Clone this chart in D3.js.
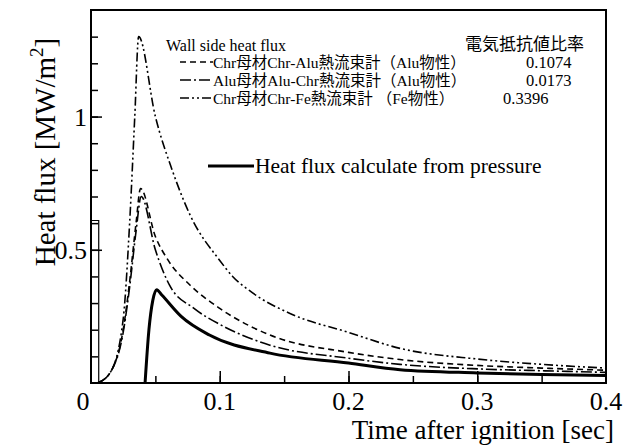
<!DOCTYPE html>
<html>
<head>
<meta charset="utf-8">
<script src="https://cdn.jsdelivr.net/npm/d3@7"></script>
<style>
  body { margin: 0; background: #fff; }
  text { font-family: "Liberation Serif", "Noto Sans CJK JP", serif; fill: #000; }
</style>
</head>
<body>
<svg id="chart" width="634" height="446"></svg>
<script>
// values: time [sec], heat flux [MW/m2]
var chrAlu = [[0.005,0],[0.015,0.04],[0.025,0.2],[0.03,0.38],[0.035,0.6],[0.0385,0.73],[0.05,0.55],[0.06,0.46],[0.077,0.367],[0.1,0.28],[0.139,0.18],[0.2,0.115],[0.24,0.088],[0.3,0.066],[0.35,0.056],[0.4,0.048]];
var aluChr = [[0.005,0],[0.015,0.04],[0.025,0.19],[0.03,0.36],[0.035,0.57],[0.039,0.70],[0.05,0.5],[0.061,0.367],[0.08,0.28],[0.1,0.22],[0.139,0.142],[0.2,0.093],[0.24,0.07],[0.3,0.053],[0.35,0.046],[0.4,0.04]];
var chrFe = [[0.005,0],[0.015,0.04],[0.025,0.24],[0.03,0.6],[0.034,1.0],[0.037,1.30],[0.05,1.0],[0.063,0.80],[0.077,0.63],[0.1,0.46],[0.11,0.40],[0.125,0.34],[0.155,0.26],[0.2,0.19],[0.24,0.13],[0.3,0.09],[0.35,0.07],[0.4,0.056]];
var pressure = [[0.042,0],[0.045,0.2],[0.048,0.31],[0.051,0.35],[0.055,0.33],[0.07,0.25],[0.092,0.18],[0.139,0.112],[0.2,0.075],[0.24,0.05],[0.3,0.038],[0.35,0.032],[0.4,0.028]];
var pulse = [[0,0.61],[0.006,0.61],[0.006,0]];

var wallNames = ["Chr母材Chr-Alu熱流束計（Alu物性）", "Alu母材Alu-Chr熱流束計（Alu物性）", "Chr母材Chr-Fe熱流束計 （Fe物性）"];
var wallRatios = ["0.1074", "0.0173", "0.3396"];
var xTicks = [0, 0.1, 0.2, 0.3, 0.4];
var yTicks = [0.5, 1];

var svg = d3.select("#chart");
var margin = {top: 10, left: 91, right: 28, bottom: 63};
var width = 634, height = 446;

var x = d3.scaleLinear().domain([0, 0.4]).range([margin.left, width - margin.right]);
var y = d3.scaleLinear().domain([0, 1.4]).range([height - margin.bottom, margin.top]);

var line = d3.line().x(d => x(d[0])).y(d => y(d[1])).curve(d3.curveMonotoneX);

var dashes = ["6,4", "11,3,2,3", "9,3,2,3,2,3"];
var wallData = [chrAlu, aluChr, chrFe];

// curves
svg.selectAll("path.wall")
    .data(wallData)
  .enter().append("path")
    .attr("class", "wall")
    .attr("d", line)
    .attr("fill", "none")
    .attr("stroke", "#000")
    .attr("stroke-width", 1.6)
    .attr("stroke-dasharray", (d, i) => dashes[i]);

svg.append("path")
    .attr("d", line(pressure))
    .attr("fill", "none")
    .attr("stroke", "#000")
    .attr("stroke-width", 3);

svg.append("path")
    .attr("d", d3.line().x(d => x(d[0])).y(d => y(d[1]))(pulse))
    .attr("fill", "none")
    .attr("stroke", "#000")
    .attr("stroke-width", 1.2);

// axes with inward ticks
var xMinor = d3.range(0.05, 0.4, 0.05);
var yMinor = d3.range(0.1, 1.4, 0.1);

svg.append("g")
    .attr("transform", `translate(0,${y(0)})`)
    .call(d3.axisTop(x).tickValues(xMinor).tickSize(7).tickFormat(""))
    .call(g => g.select(".domain").remove())
    .selectAll("line").attr("stroke-width", 1.5);

svg.append("g")
    .attr("transform", `translate(0,${y(0)})`)
    .call(d3.axisTop(x).tickValues([0.1, 0.2, 0.3]).tickSize(12).tickFormat(""))
    .call(g => g.select(".domain").remove())
    .selectAll("line").attr("stroke-width", 1.5);

svg.append("g")
    .attr("transform", `translate(${x(0)},0)`)
    .call(d3.axisRight(y).tickValues(yMinor).tickSize(7).tickFormat(""))
    .call(g => g.select(".domain").remove())
    .selectAll("line").attr("stroke-width", 1.5);

svg.append("g")
    .attr("transform", `translate(${x(0)},0)`)
    .call(d3.axisRight(y).tickValues(yTicks).tickSize(11).tickFormat(""))
    .call(g => g.select(".domain").remove())
    .selectAll("line").attr("stroke-width", 1.5);

svg.append("rect")
    .attr("x", x(0)).attr("y", y(1.4))
    .attr("width", x(0.4) - x(0)).attr("height", y(0) - y(1.4))
    .attr("fill", "none").attr("stroke", "#000").attr("stroke-width", 2);

// tick labels
svg.selectAll("text.xt")
    .data(xTicks)
  .enter().append("text")
    .attr("class", "xt")
    .attr("x", d => d === 0 ? x(d) - 8 : x(d))
    .attr("y", y(0) + 27)
    .attr("text-anchor", "middle")
    .attr("font-size", 26)
    .text(d => d3.format("")(d));

svg.selectAll("text.yt")
    .data(yTicks)
  .enter().append("text")
    .attr("class", "yt")
    .attr("x", x(0) - 4)
    .attr("y", d => y(d) + 9)
    .attr("text-anchor", "end")
    .attr("font-size", 26)
    .text(d => d);

svg.append("text")
    .attr("x", 614).attr("y", 439)
    .attr("text-anchor", "end")
    .attr("font-size", 27)
    .text("Time after ignition [sec]");

var yl = svg.append("text")
    .attr("transform", `translate(55,152) rotate(-90)`)
    .attr("text-anchor", "middle")
    .attr("font-size", 29);
yl.append("tspan").text("Heat flux [MW/m");
yl.append("tspan").attr("font-size", 19).attr("dy", -12).text("2");
yl.append("tspan").attr("dy", 12).text("]");

// legend
var lg = svg.append("g").attr("font-size", 15.5);
lg.append("text").attr("x", 166).attr("y", 51).attr("font-size", 16).text("Wall side heat flux");
lg.append("text").attr("x", 465).attr("y", 50).attr("font-size", 17).text("電気抵抗値比率");

var rows = lg.selectAll("g.row")
    .data(wallNames)
  .enter().append("g")
    .attr("class", "row")
    .attr("transform", (d, i) => `translate(0,${68 + i * 18})`);

rows.append("line")
    .attr("x1", 180).attr("x2", 213)
    .attr("y1", -6).attr("y2", -6)
    .attr("stroke", "#000").attr("stroke-width", 1.4)
    .attr("stroke-dasharray", (d, i) => dashes[i]);

rows.append("text").attr("x", 213).attr("y", 0).text(d => d);
rows.append("text").attr("x", (d, i) => i === 2 ? 503 : 526).attr("y", 0)
    .attr("font-size", 16.5).text((d, i) => wallRatios[i]);

svg.append("line")
    .attr("x1", 208).attr("x2", 254).attr("y1", 166).attr("y2", 166)
    .attr("stroke", "#000").attr("stroke-width", 3);
svg.append("text")
    .attr("x", 255).attr("y", 173)
    .attr("font-size", 21.5)
    .text("Heat flux calculate from pressure");
</script>
</body>
</html>
